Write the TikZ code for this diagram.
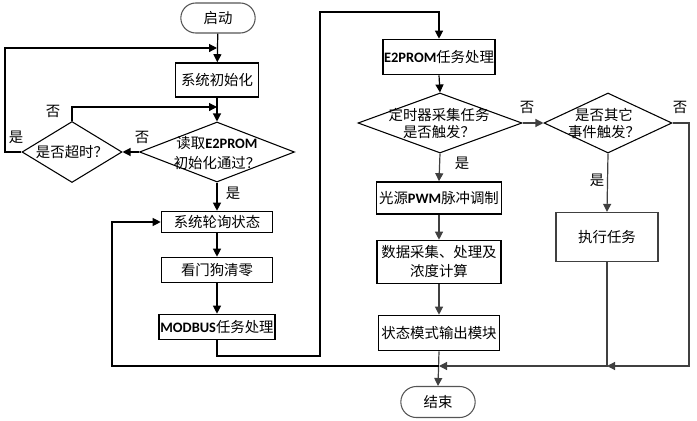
\documentclass[tikz,border=0pt]{standalone}
\usepackage{fontspec}
\setmainfont{Noto Sans CJK SC}
\newfontfamily\latb{Carlito}
\usetikzlibrary{arrows.meta,shapes.geometric,shapes.misc}
\newcommand{\lb}[1]{{\latb\bfseries #1}}
\definecolor{lgray}{HTML}{404040}
\definecolor{tgray}{HTML}{555555}
\tikzset{
  every node/.style={font=\fontsize{10.8}{13}\selectfont, inner sep=1pt},
  term/.style={draw=tgray, line width=0.8pt, rounded rectangle, minimum width=57.75pt, minimum height=22.5pt},
  box/.style={draw=black, line width=1.2pt, rectangle},
  gbox/.style={draw=lgray, line width=0.9pt, rectangle},
  dia/.style={draw=black, line width=0.8pt, diamond, inner sep=0pt},
  conn/.style={draw=black, line width=0.9pt, -{Triangle[length=6pt,width=6pt]}},
  plain/.style={draw=black, line width=0.9pt},
  gconn/.style={draw=lgray, line width=0.9pt, -{Triangle[length=6pt,width=6pt]}},
  gplain/.style={draw=lgray, line width=0.9pt},
  lab/.style={font=\fontsize{10.8}{13}\selectfont}
}
\begin{document}
\begin{tikzpicture}[x=0.75pt,y=-0.75pt]
\useasboundingbox (0,0) rectangle (697,421);
% nodes
\node[term] (start) at (218,18) {启动};
\node[box, minimum width=62.25pt, minimum height=25.5pt] (init) at (217,80) {系统初始化};
\node[dia, minimum width=116.25pt, minimum height=45pt] (read) at (217,152) {};
\node[align=center, font=\fontsize{10.8}{15}\selectfont] (readT) at (217,153) {读取\lb{E2PROM}\\初始化通过？};
\node[dia, minimum width=75pt, minimum height=45.75pt] (tout) at (72,152) {};
\node (toutT) at (72,152) {是否超时？};
\node[box, minimum width=83.25pt, minimum height=15.75pt] (poll) at (217,222) {系统轮询状态};
\node[box, minimum width=83.25pt, minimum height=18.75pt] (wdog) at (217,270) {看门狗清零};
\node[box, minimum width=87pt, minimum height=18.75pt] (modbus) at (217,327) {\lb{MODBUS}任务处理};
\node[box, minimum width=83.25pt, minimum height=26.25pt] (e2task) at (439,57) {\lb{E2PROM}任务处理};
\node[dia, minimum width=123pt, minimum height=45pt] (timer) at (440,123) {};
\node[align=center, font=\fontsize{10.8}{12.75}\selectfont] (timerT) at (439,123) {定时器采集任务\\是否触发？};
\node[dia, minimum width=96pt, minimum height=45pt] (other) at (608,123) {};
\node[align=center, font=\fontsize{10.8}{12.75}\selectfont] (otherT) at (604,123) {是否其它\\事件触发？};
\node[box, minimum width=93.75pt, minimum height=24pt] (pwm) at (439,198) {光源\lb{PWM}脉冲调制};
\node[box, minimum width=93pt, minimum height=32.25pt, align=center, font=\fontsize{10.8}{14.25}\selectfont] (calc) at (439,262) {数据采集、处理及\\浓度计算};
\node[box, minimum width=90.75pt, minimum height=26.25pt] (out) at (439,333) {状态模式输出模块};
\node[gbox, minimum width=76.5pt, minimum height=36.75pt] (exec) at (607,237) {执行任务};
\node[term, minimum height=23.25pt] (end) at (438,402) {结束};
% labels
\node[lab] (l1) at (53,111) {否};
\node[lab] (l2) at (16,137) {是};
\node[lab] (l3) at (142,137) {否};
\node[lab] (l4) at (233,193) {是};
\node[lab] (l5) at (527,107) {否};
\node[lab] (l6) at (680,107) {否};
\node[lab] (l7) at (462,163) {是};
\node[lab] (l8) at (597,180) {是};
% coordinates
\coordinate (j1) at (217,48);
\coordinate (j2) at (217,107);
\coordinate (jR) at (439,366);
\coordinate (jE) at (607,366);
% connectors left
\draw[conn] (start) -- (init);
\draw[conn] (init) -- (read);
\draw[conn] (tout.west) -- (5,152) -- (5,48) -- (j1);
\draw[conn] (tout.north) -- (72,107) -- (j2);
\draw[conn] (read.west) -- (tout.east);
\draw[conn] (read.south) -- (poll.north);
\draw[conn] (poll) -- (wdog);
\draw[conn] (wdog) -- (modbus);
\draw[conn] (modbus.south) -- (217,356) -- (320,356) -- (320,12) -- (439,12) -- (e2task.north);
\draw[conn] (e2task.south) -- (timer.north);
% connectors right
\draw[gconn] (timer.east) -- (other.west);
\draw[gconn] (timer.south) -- (pwm.north);
\draw[gconn] (pwm) -- (calc);
\draw[gconn] (calc) -- (out);
\draw[gconn] (out.south) -- (end.north);
\draw[gconn] (other.south) -- (exec.north);
\draw[gconn] (other.east) -- (689,123) -- (689,366) -- (jE);
\draw[gconn] (exec.south) -- (jE) -- (jR);
\draw[conn] (jR) -- (112,366) -- (112,222) -- (poll.west);
\end{tikzpicture}
\end{document}
